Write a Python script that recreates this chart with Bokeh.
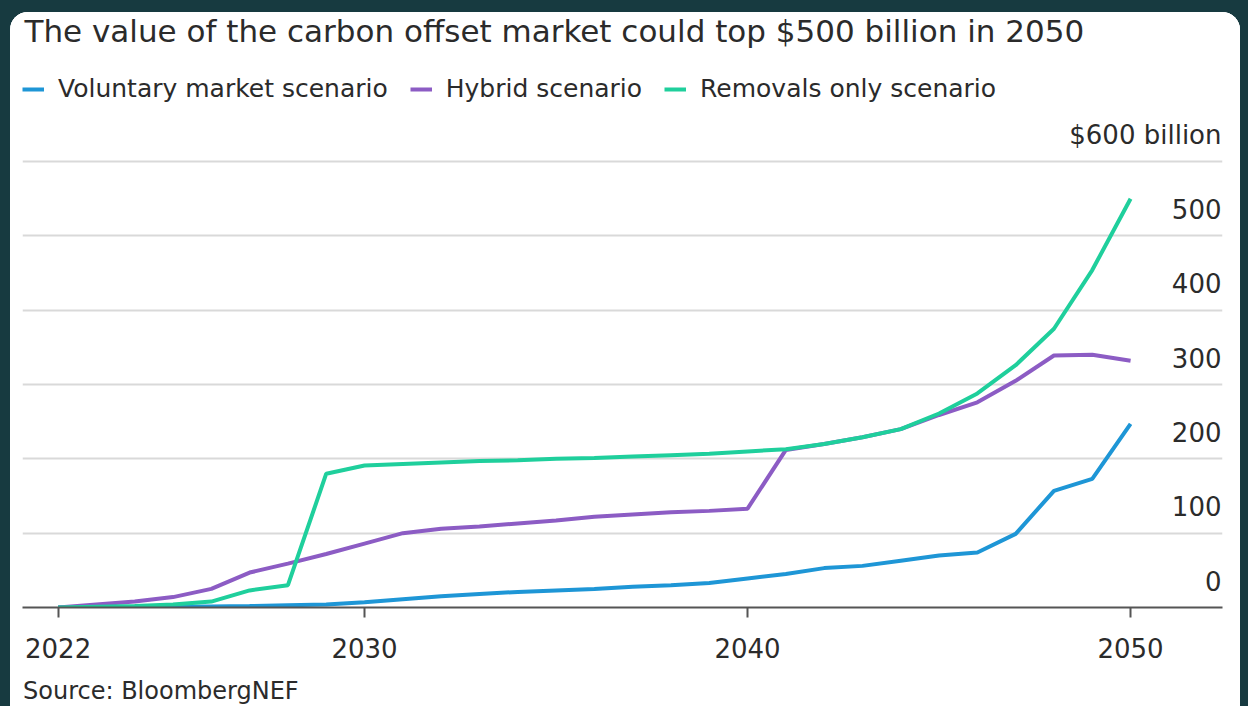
from bokeh.plotting import figure
from bokeh.layouts import column
from bokeh.models import FixedTicker, Legend, LegendItem, Div, Range1d
from bokeh.core.properties import value
from bokeh.embed import file_html
from bokeh.resources import INLINE

# ---- data ----
years = list(range(2022, 2051))
voluntary = [0, 0, 0.5, 1, 1.5, 2, 3, 4, 7,
             11, 15, 18, 21, 23, 25, 28, 30, 33, 39,
             45, 53, 56, 63, 70, 74, 99, 157, 173, 247]
hybrid = [0, 4, 8, 14, 25, 47, 59, 72, 86,
          100, 106, 109, 113, 117, 122, 125, 128, 130, 133,
          212, 220, 229, 240, 259, 276, 305, 339, 340, 332]
removals = [0, 1, 2, 4, 8, 23, 30, 180, 191,
            193, 195, 197, 198, 200, 201, 203, 205, 207, 210,
            213, 220, 229, 240, 261, 288, 326, 375, 454, 550]
series_names = ["Voluntary market scenario", "Hybrid scenario", "Removals only scenario"]
x_ticks = [2022, 2030, 2040, 2050]
y_ticks = [0, 100, 200, 300, 400, 500, 600]
y_tick_labels = ["0", "100", "200", "300", "400", "500", "$600 billion"]
title_text = "The value of the carbon offset market could top $500 billion in 2050"
source_text = "Source: BloombergNEF"

# ---- styling ----
FONT = "DejaVu Sans"
TXT = "#2b2b2b"
BLUE = "#1e96d6"
PURPLE = "#8c5cc4"
GREEN = "#1fcf9c"

X0, X1 = 2021.07, 2052.40
Y1 = 749.4
p = figure(width=1230, height=665, output_backend="svg", toolbar_location=None,
           x_range=Range1d(X0, X1), y_range=Range1d(0, Y1),
           min_border_left=12, min_border_right=18, min_border_top=38, min_border_bottom=70,
           border_fill_color="white", background_fill_color="white")
p.outline_line_color = None
p.margin = 0
p.styles = {"background-color": "white"}

p.title.text = title_text
p.title.text_font = FONT
p.title.text_font_size = "31px"
p.title.text_font_style = "normal"
p.title.text_color = TXT
p.title.offset = 2
p.title.standoff = 0
p.title.vertical_align = "top"

# grid / axes
p.xgrid.visible = False
p.ygrid.ticker = FixedTicker(ticks=y_ticks[1:])
p.ygrid.grid_line_color = "#d9d9d9"
p.ygrid.grid_line_width = 2
p.yaxis.visible = False

p.xaxis.ticker = FixedTicker(ticks=x_ticks)
p.xaxis.axis_line_color = "#555555"
p.xaxis.axis_line_width = 2
p.xaxis.major_tick_line_color = "#555555"
p.xaxis.major_tick_line_width = 2
p.xaxis.major_tick_out = 10
p.xaxis.major_tick_in = 0
p.xaxis.minor_tick_line_color = None
p.xaxis.major_label_standoff = 20
p.xaxis.major_label_text_font = FONT
p.xaxis.major_label_text_font_size = "26px"
p.xaxis.major_label_text_color = TXT

# lines
r_v = p.line(years, voluntary, line_color=BLUE, line_width=4)
r_h = p.line(years, hybrid, line_color=PURPLE, line_width=4)
r_r = p.line(years, removals, line_color=GREEN, line_width=4)

# y tick labels inside the plot, right aligned above their grid lines
p.text(x=[X1] * len(y_ticks), y=y_ticks, text=y_tick_labels,
       text_align="right", text_baseline="middle", x_offset=-1, y_offset=-27,
       text_font=value(FONT), text_font_size="26px", text_color=TXT)

legend = Legend(items=[LegendItem(label=series_names[0], renderers=[r_v]),
                       LegendItem(label=series_names[1], renderers=[r_h]),
                       LegendItem(label=series_names[2], renderers=[r_r])],
                orientation="horizontal", location=(0, 504),
                label_text_font=FONT, label_text_font_size="25px", label_text_color=TXT,
                glyph_width=22, glyph_height=22, label_standoff=14, spacing=22,
                padding=2, margin=0, border_line_color=None, background_fill_alpha=0)
p.add_layout(legend, "center")

# source note under the chart
src = Div(text=source_text, width=1217, height=29, margin=(0, 0, 0, 13),
          styles={"font-family": FONT, "font-size": "24px", "line-height": "28px",
                  "color": TXT, "white-space": "nowrap", "overflow": "visible"})

layout = column(p, src, spacing=0, margin=(12, 8, 0, 10),
                styles={"background-color": "white", "border-radius": "18px 18px 0 0",
                        "overflow": "hidden"})

template = """{% block preamble %}<style>body { background-color: #173a40; }</style>{% endblock %}"""
open("out.html", "w").write(file_html(layout, INLINE, template=template))
